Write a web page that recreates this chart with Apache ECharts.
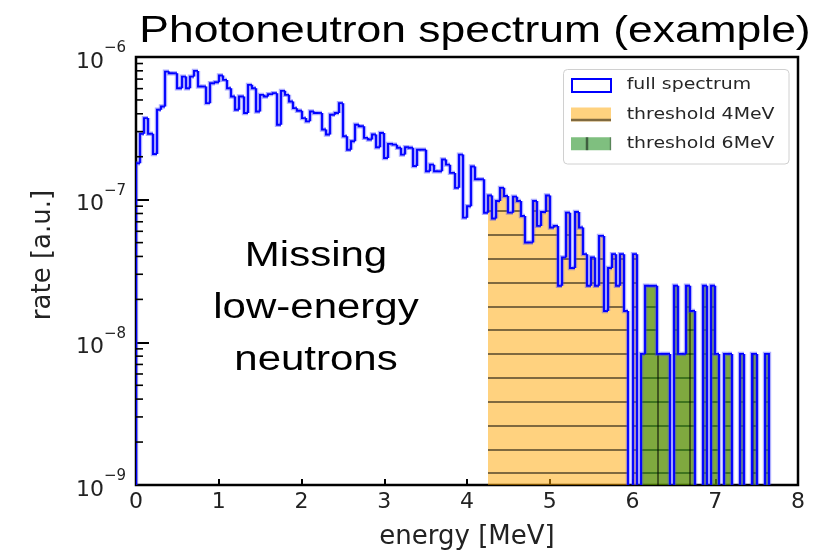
<!DOCTYPE html>
<html>
<head>
<meta charset="utf-8">
<script src="https://cdn.jsdelivr.net/npm/echarts@6/dist/echarts.min.js"></script>
<style>
html,body{margin:0;padding:0;background:#fff;}
#chart{width:833px;height:555px;}
</style>
</head>
<body>
<div id="chart"></div>
<script>
// ---------------- data ----------------
const titleText = 'Photoneutron spectrum (example)';
const annotationLines = ['Missing', 'low-energy', 'neutrons'];
const legendLabels = ['full spectrum', 'threshold 4MeV', 'threshold 6MeV'];
const xAxisName = 'energy [MeV]';
const yAxisName = 'rate [a.u.]';
const xTickValues = [0, 1, 2, 3, 4, 5, 6, 7, 8];
const yMinValue = 1e-9;
const yMaxValue = 1e-6;
const yMinorTickValues = [
  2e-9, 3e-9, 4e-9, 5e-9, 6e-9, 7e-9, 8e-9, 9e-9,
  2e-8, 3e-8, 4e-8, 5e-8, 6e-8, 7e-8, 8e-8, 9e-8,
  2e-7, 3e-7, 4e-7, 5e-7, 6e-7, 7e-7, 8e-7, 9e-7
];
const binWidth = 0.05;            // MeV, histogram bins start at 0
const threshold4Start = 4.25;     // first bin of the "threshold 4MeV" histogram
const threshold6Start = 6.10;     // first bin of the "threshold 6MeV" histogram
// full spectrum rate per 0.05 MeV bin (0 = empty bin)
const fullSpectrum = [
  1.8e-7, 2.9e-7, 3.73e-7, 2.9e-7, 2.09e-7, 4.27e-7, 4.5e-7, 7.9e-7, 7.69e-7, 7.69e-7,
  6.04e-7, 7.29e-7, 6.04e-7, 7.29e-7, 7.99e-7, 6.21e-7, 6.21e-7, 4.75e-7, 6.55e-7, 6.66e-7,
  7.41e-7, 6.91e-7, 6.04e-7, 5.29e-7, 4.27e-7, 5.29e-7, 4.05e-7, 6.38e-7, 6.04e-7, 4.15e-7,
  5.43e-7, 5.29e-7, 5.49e-7, 5.58e-7, 3.35e-7, 5.79e-7, 5.43e-7, 4.88e-7, 4.38e-7, 4.2e-7,
  3.73e-7, 3.54e-7, 4.15e-7, 4.05e-7, 4.05e-7, 3.1e-7, 2.86e-7, 3.94e-7, 4.05e-7, 4.75e-7,
  2.78e-7, 2.24e-7, 2.57e-7, 3.35e-7, 3.27e-7, 2.71e-7, 2.64e-7, 2.86e-7, 2.33e-7, 2.93e-7,
  1.96e-7, 2.46e-7, 2.43e-7, 2.31e-7, 2.07e-7, 2.33e-7, 2.31e-7, 1.72e-7, 2.24e-7, 2.24e-7,
  1.58e-7, 1.76e-7, 1.58e-7, 1.58e-7, 1.91e-7, 1.76e-7, 1.54e-7, 1.21e-7, 2.07e-7, 7.48e-8,
  9.0e-8, 1.71e-7, 1.39e-7, 1.39e-7, 8.1e-8, 1.07e-7, 7.37e-8, 9.78e-8, 1.21e-7, 1.06e-7,
  8.11e-8, 1.05e-7, 9.78e-8, 7.69e-8, 5.01e-8, 5.01e-8, 9.78e-8, 6.55e-8, 8.19e-8, 1.07e-7,
  6.38e-8, 6.55e-8, 2.49e-8, 3.94e-8, 8.11e-8, 3.32e-8, 8.19e-8, 6.38e-8, 4.15e-8, 2.49e-8,
  3.94e-8, 2.49e-8, 5.57e-8, 1.66e-8, 3.32e-8, 4.15e-8, 2.49e-8, 4.15e-8, 1.66e-8, 0,
  4.15e-8, 0, 8.3e-9, 2.49e-8, 2.49e-8, 2.49e-8, 8.3e-9, 8.3e-9, 8.3e-9, 0,
  2.49e-8, 8.3e-9, 8.3e-9, 2.49e-8, 1.66e-8, 0, 0, 2.49e-8, 0, 2.49e-8,
  8.3e-9, 0, 8.3e-9, 8.3e-9, 0, 0, 8.3e-9, 0, 0, 8.3e-9,
  0, 0, 8.3e-9
];

// ---------------- derived tables ----------------
// [left edge, right edge, value, previous bin value]
const spectrumBins = fullSpectrum.map((v, i) => [
  +(i * binWidth).toFixed(4), +((i + 1) * binWidth).toFixed(4), v, i > 0 ? fullSpectrum[i - 1] : 0
]);
const threshold4Bins = spectrumBins.filter(b => b[0] >= threshold4Start - 1e-6 && b[2] > 0);
const threshold6Bins = spectrumBins.filter(b => b[0] >= threshold6Start - 1e-6 && b[2] > 0);
const minorTickData = yMinorTickValues.map(v => [0, v]);

const FONT = 'DejaVu Sans';
const HATCH = 'rgba(0,0,0,0.5)';

function stepRender(params, api) {
  const cs = params.coordSys;
  const yBot = cs.y + cs.height + 3;
  const x0 = api.value(0), x1 = api.value(1), v = api.value(2), pv = api.value(3);
  const px0 = Math.round(api.coord([x0, yMinValue])[0]);
  const px1 = Math.round(api.coord([x1, yMinValue])[0]);
  const yOf = val => (val > 0 ? api.coord([x0, val])[1] : yBot);
  const y = yOf(v);
  const yp = yOf(pv);
  const pts = [[px0, yp], [px0, y], [px1, y]];
  if (params.dataIndex === fullSpectrum.length - 1) pts.push([px1, yBot]);
  return {
    type: 'group',
    children: [
      { type: 'polyline', shape: { points: pts }, style: { stroke: 'rgba(60,60,255,0.42)', lineWidth: 4.4, fill: null, lineJoin: 'miter' } },
      { type: 'polyline', shape: { points: pts }, style: { stroke: '#0000ff', lineWidth: 1.9, fill: null, lineJoin: 'miter' } }
    ]
  };
}

function fillRender(fillColor, hatch) {
  return function (params, api) {
    const cs = params.coordSys;
    const yB = cs.y + cs.height;
    const x0 = api.value(0), x1 = api.value(1), v = api.value(2);
    const top = api.coord([x0, v]);
    const px0 = Math.round(top[0]);
    const px1 = Math.round(api.coord([x1, v])[0]);
    const yT = top[1];
    const children = [{
      type: 'rect', shape: { x: px0, y: yT, width: px1 - px0, height: yB - yT },
      style: { fill: fillColor }
    }];
    if (hatch === 'h') {
      for (let yy = yB - 11.7; yy > yT + 1; yy -= 23.8) {
        const ry = Math.round(yy);
        children.push({ type: 'line', shape: { x1: px0, y1: ry, x2: px1, y2: ry }, style: { stroke: HATCH, lineWidth: 2 } });
      }
    } else if (hatch === 'v') {
      for (let k = -25; k < 25; k++) {
        const xx = Math.round(cs.x + 522.3 + 31.7 * k);
        if (xx >= px0 && xx < px1) {
          children.push({ type: 'line', shape: { x1: xx, y1: yT, x2: xx, y2: yB }, style: { stroke: HATCH, lineWidth: 2 } });
        }
      }
    }
    return { type: 'group', children };
  };
}

function minorTickRender(params, api) {
  const p = api.coord([api.value(0), api.value(1)]);
  const x = params.coordSys.x;
  return { type: 'line', shape: { x1: x, y1: p[1], x2: x + 7, y2: p[1] }, style: { stroke: '#000', lineWidth: 1.6 } };
}

const chart = echarts.init(document.getElementById('chart'), null, { renderer: 'canvas' });

const legendX = 571, legendTextX = 626.7;
const legendRows = [85, 114.5, 143.7];

chart.setOption({
  animation: false,
  backgroundColor: '#ffffff',
  grid: { left: 136, right: 35, top: 57, bottom: 68, show: true, borderColor: '#000', borderWidth: 2.5, backgroundColor: 'transparent' },
  xAxis: {
    type: 'value', min: xTickValues[0], max: xTickValues[xTickValues.length - 1], interval: 1,
    axisLine: { show: false },
    axisTick: { show: true, inside: true, length: 6, lineStyle: { color: '#000', width: 2 } },
    axisLabel: { fontFamily: FONT, fontSize: 22, color: '#222', margin: 6 },
    splitLine: { show: false },
    name: xAxisName, nameLocation: 'middle', nameGap: 39,
    nameTextStyle: { fontFamily: FONT, fontSize: 26, color: '#222' }
  },
  yAxis: {
    type: 'log', logBase: 10, min: yMinValue, max: yMaxValue, splitNumber: 3,
    axisLine: { show: false },
    axisTick: { show: true, inside: true, length: 13, lineStyle: { color: '#000', width: 2 } },
    splitLine: { show: false },
    axisLabel: {
      margin: 10,
      formatter: v => '{b|10}{s|\u2212' + (-Math.round(Math.log10(v))) + '}',
      rich: {
        b: { fontFamily: FONT, fontSize: 22, color: '#222', lineHeight: 32, verticalAlign: 'bottom' },
        s: { fontFamily: FONT, fontSize: 15, color: '#222', lineHeight: 32, verticalAlign: 'top' }
      }
    },
    name: yAxisName, nameLocation: 'middle', nameGap: 80, nameRotate: 90,
    nameTextStyle: { fontFamily: FONT, fontSize: 26, color: '#222', padding: [0, 0, 0, 32] }
  },
  series: [
    { name: legendLabels[1], type: 'custom', z: 2, clip: true, renderItem: fillRender('rgba(255,165,0,0.5)', 'h'),
      data: threshold4Bins, encode: { x: [0, 1], y: 2 } },
    { name: legendLabels[2], type: 'custom', z: 3, clip: true, renderItem: fillRender('rgba(0,128,0,0.5)', 'v'),
      data: threshold6Bins, encode: { x: [0, 1], y: 2 } },
    { name: legendLabels[0], type: 'custom', z: 4, clip: true, renderItem: stepRender,
      data: spectrumBins, encode: { x: [0, 1], y: 2 } },
    { name: 'minor ticks', type: 'custom', z: 5, clip: false, renderItem: minorTickRender,
      data: minorTickData, encode: { x: 0, y: 1 }, silent: true }
  ],
  graphic: [
    { type: 'text', x: 475, y: 32, scaleX: 1.2, z: 100,
      style: { text: titleText, fontFamily: 'Liberation Sans', fontSize: 37, fill: '#000', align: 'center', verticalAlign: 'middle' } },
    { type: 'text', x: 316, y: 308.5, scaleX: 1.2, z: 100,
      style: { text: annotationLines.join('\n'), fontFamily: 'Liberation Sans', fontSize: 35, lineHeight: 51.7, fill: '#000', align: 'center', verticalAlign: 'middle' } },
    { type: 'group', z: 100, children: [
      { type: 'rect', shape: { x: 563.5, y: 69.5, width: 225.5, height: 94.5, r: 4 }, style: { fill: 'rgba(255,255,255,0.85)', stroke: '#d0d0d0', lineWidth: 1 } },
      { type: 'rect', shape: { x: legendX + 1, y: legendRows[0] - 6, width: 39, height: 13 }, style: { fill: '#fff', stroke: '#0000ff', lineWidth: 2 } },
      { type: 'rect', shape: { x: legendX, y: legendRows[1] - 7, width: 40, height: 14 }, style: { fill: 'rgba(255,165,0,0.5)' } },
      { type: 'line', shape: { x1: legendX, y1: legendRows[1] + 5.5, x2: legendX + 40, y2: legendRows[1] + 5.5 }, style: { stroke: HATCH, lineWidth: 2.5 } },
      { type: 'rect', shape: { x: legendX, y: legendRows[2] - 6.5, width: 40, height: 13 }, style: { fill: 'rgba(0,128,0,0.5)' } },
      { type: 'line', shape: { x1: legendX + 16, y1: legendRows[2] - 6.5, x2: legendX + 16, y2: legendRows[2] + 6.5 }, style: { stroke: HATCH, lineWidth: 2.5 } },
      { type: 'line', shape: { x1: legendX + 39.5, y1: legendRows[2] - 6.5, x2: legendX + 39.5, y2: legendRows[2] + 6.5 }, style: { stroke: 'rgba(0,0,0,0.3)', lineWidth: 1.5 } },
      { type: 'text', x: legendTextX, y: legendRows[0], scaleX: 1.18, style: { text: legendLabels[0], fontFamily: FONT, fontSize: 16, fill: '#262626', align: 'left', verticalAlign: 'middle' } },
      { type: 'text', x: legendTextX, y: legendRows[1], scaleX: 1.18, style: { text: legendLabels[1], fontFamily: FONT, fontSize: 16, fill: '#262626', align: 'left', verticalAlign: 'middle' } },
      { type: 'text', x: legendTextX, y: legendRows[2], scaleX: 1.18, style: { text: legendLabels[2], fontFamily: FONT, fontSize: 16, fill: '#262626', align: 'left', verticalAlign: 'middle' } }
    ] }
  ]
});
</script>
</body>
</html>
